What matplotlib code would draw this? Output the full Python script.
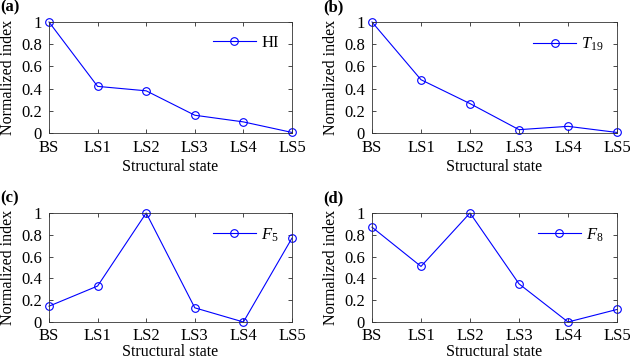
import matplotlib
matplotlib.use('Agg')
import matplotlib.pyplot as plt

plt.rcParams['font.family'] = ['Liberation Serif', 'DejaVu Serif']
plt.rcParams['mathtext.fontset'] = 'custom'
plt.rcParams['mathtext.rm'] = 'Liberation Serif'
plt.rcParams['mathtext.it'] = 'Liberation Serif:italic'
plt.rcParams['font.size'] = 10

states = ['BS', 'LS1', 'LS2', 'LS3', 'LS4', 'LS5']
hi = [1.0, 0.42, 0.38, 0.16, 0.10, 0.005]
t19 = [1.0, 0.48, 0.265, 0.03, 0.06, 0.005]
f5 = [0.145, 0.33, 1.0, 0.13, 0.0, 0.77]
f8 = [0.87, 0.51, 1.0, 0.35, 0.0, 0.115]

panels = [
    ('(a)', hi, 'HI'),
    ('(b)', t19, r'$T_{19}$'),
    ('(c)', f5, r'$F_{5}$'),
    ('(d)', f8, r'$F_{8}$'),
]

W, H = 630, 359
fig = plt.figure(figsize=(W / 100, H / 100), dpi=100)

# axes boxes in pixels: left, top, right, bottom
boxes = [(49, 22, 292, 133), (372, 22, 617, 133),
         (49, 213, 292, 322), (372, 213, 617, 322)]

for i, ((tag, vals, name), (l, t, r, b)) in enumerate(zip(panels, boxes)):
    ax = fig.add_axes([l / W, 1 - b / H, (r - l) / W, (b - t) / H])
    x = range(len(states))
    ax.plot(x, vals, color='#0000ff', lw=0.8, marker='o', ms=5.5,
            mfc='none', mec='#0000ff', mew=0.8, label=name, clip_on=False)
    ax.set_xlim(0, len(states) - 1)
    ax.set_ylim(0, 1)
    ax.set_xticks(list(x))
    ax.set_xticklabels(states)
    ax.set_yticks([0, 0.2, 0.4, 0.6, 0.8, 1])
    ax.set_yticklabels(['0', '0.2', '0.4', '0.6', '0.8', '1'])
    ax.tick_params(direction='in', length=3, width=0.5, top=True, right=True,
                   labelsize=12, colors='black')
    ax.tick_params(axis='x', pad=5 if i < 2 else 4)
    ax.tick_params(axis='y', pad=5)
    for sp in ax.spines.values():
        sp.set_linewidth(0.6)
        sp.set_color('#333333')
    # bottom row sits right on the figure edge, keep its label inside
    ax.set_xlabel('Structural state', fontsize=11.5, labelpad=2 if i < 2 else 0)
    ax.set_ylabel('Normalized index', fontsize=11.5, labelpad=4)
    ax.legend(loc='upper right', frameon=False, fontsize=12,
              handlelength=2.6, handletextpad=0.3, borderaxespad=0.4,
              borderpad=0.4)
    fig.text((l - 49) / W, 1 - (t - 15) / H, tag, fontsize=12,
             fontweight='bold', ha='left', va='center')

fig.savefig('out.png', dpi=100)
